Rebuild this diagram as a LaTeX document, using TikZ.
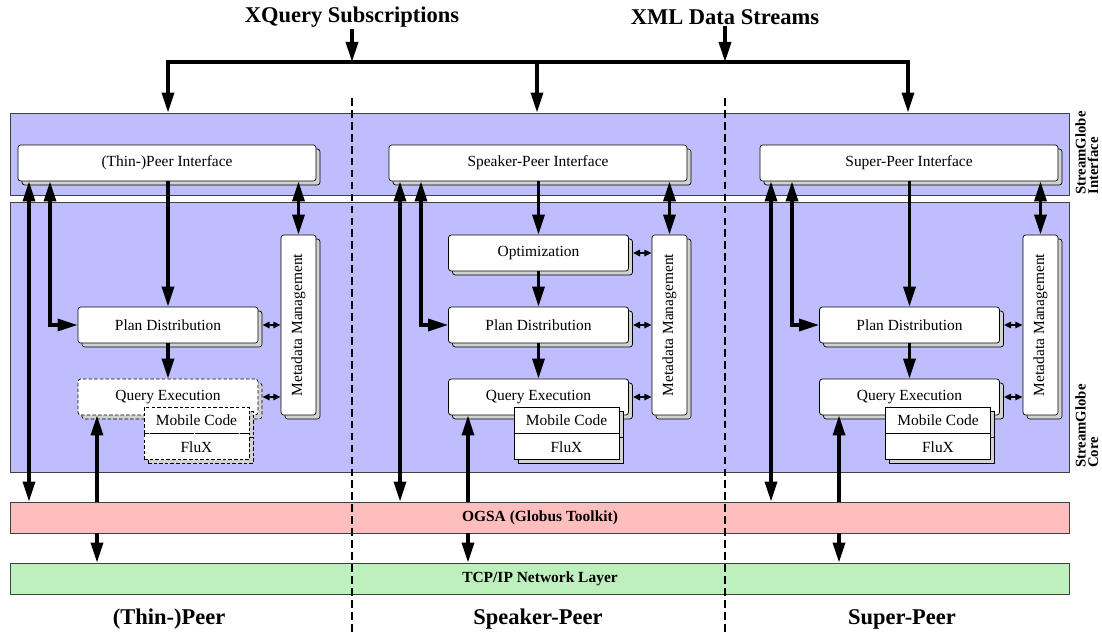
\documentclass[tikz,border=0pt]{standalone}
\usepackage{fontspec}
\setmainfont{Liberation Serif}
\usepackage{tikz}
\usetikzlibrary{arrows.meta,shadows,positioning}

\definecolor{sgblue}{RGB}{190,190,255}
\definecolor{ogsapink}{RGB}{255,190,190}
\definecolor{tcpgreen}{RGB}{190,240,190}
\newcommand{\boxfont}{\fontsize{11}{13}\selectfont}

\tikzset{
	sgshadow/.style={general shadow={shadow xshift=1mm, shadow yshift=-1mm, fill=gray!35, draw=black, line width=0.5pt, #1}},
	box/.style={draw, line width=0.5pt, fill=white, rounded corners=2pt, minimum height=0.9cm, font=\boxfont, sgshadow={}},
	ifbox/.style={box, minimum width=7.45cm},
	modbox/.style={box, minimum width=4.5cm},
	metabox/.style={box, minimum width=0.875cm, minimum height=4.5cm},
	codebox/.style={draw, line width=0.5pt, fill=white, minimum width=2.625cm, minimum height=0.65cm, font=\boxfont, sgshadow={}},
	dashmod/.style={draw, line width=0.5pt, fill=white, rounded corners=2pt, minimum width=4.5cm, minimum height=0.9cm, font=\boxfont, dash pattern=on 2.5pt off 1.5pt, sgshadow={dash pattern=on 2.5pt off 1.5pt}},
	dashcode/.style={draw, line width=0.5pt, fill=white, minimum width=2.625cm, minimum height=0.65cm, font=\boxfont, dash pattern=on 2.5pt off 1.5pt, sgshadow={dash pattern=on 2.5pt off 1.5pt}},
	band/.style={draw=black!75, line width=0.6pt, minimum width=26.475cm, font=\fontsize{11}{13}\bfseries},
	sidelbl/.style={rotate=90, align=left, inner sep=0pt, font=\fontsize{10.5}{9}\bfseries},
	title/.style={inner sep=1pt, font=\fontsize{16}{18}\bfseries},
	arr/.style={line width=2.4pt, -{Triangle[length=5mm,width=3mm]}},
	dblarr/.style={line width=2.4pt, {Triangle[length=5mm,width=3mm]}-{Triangle[length=5mm,width=3mm]}},
	smalldbl/.style={line width=1.5pt, {Triangle[length=1.8mm,width=1.6mm]}-{Triangle[length=1.8mm,width=1.6mm]}},
	sep/.style={line width=1.2pt, dash pattern=on 5.5pt off 3pt}
}

\begin{document}
\begin{tikzpicture}[x=0.025cm, y=-0.025cm]
	\useasboundingbox (0,0) rectangle (1102,635);

	% layers
	\node[band, fill=sgblue, minimum height=2.05cm] (ifBand) at (540,154) {};
	\node[band, fill=sgblue, minimum height=6.75cm] (coreBand) at (540,337) {};
	\node[band, fill=ogsapink, minimum height=0.775cm] (ogsa) at (540,517.5) {OGSA (Globus Toolkit)};
	\node[band, fill=tcpgreen, minimum height=0.775cm] (tcp) at (540,578.5) {TCP/IP Network Layer};

	\node[sidelbl, anchor=north west] (ifLbl) at (1075,195) {StreamGlobe\\Interface};
	\node[sidelbl, anchor=north west] (coreLbl) at (1075,468) {StreamGlobe\\Core};

	% peer separators
	\draw[sep] (352,98) -- (352,635);
	\draw[sep] (725,98) -- (725,635);

	% inputs
	\node[title] (xq) at (352,17) {XQuery Subscriptions};
	\node[title] (xml) at (725,17) {XML Data Streams};
	\coordinate (barL) at (168,62);
	\coordinate (barM) at (537,62);
	\coordinate (barR) at (908,62);
	\draw[arr] (xq) -- (xq |- barL);
	\draw[arr] (xml) -- (xml |- barL);
	\draw[dblarr] (barL |- ifBand.north) -- (barL) -- (barR) -- (barR |- ifBand.north);
	\draw[arr] (barM) -- (barM |- ifBand.north);

	% (Thin-)Peer
	\node[ifbox] (thinIf) at (167,163) {(Thin-)Peer Interface};
	\node[modbox] (thinPlan) at (168,325) {Plan Distribution};
	\node[dashmod] (thinQE) at (168,397) {Query Execution};
	\node[dashcode] (thinMob) at (196.5,420) {Mobile Code};
	\node[dashcode, below=0pt of thinMob] (thinFlux) {FluX};
	\node[metabox] (thinMeta) at (298.5,325) {\rotatebox{90}{Metadata Management}};
	\coordinate (thinA) at (29,0);
	\coordinate (thinB) at (50,0);
	\coordinate (thinC) at (97,0);

	\draw[dblarr] (thinA |- thinIf.south) -- (thinA |- ogsa.north);
	\draw[dblarr] (thinB |- thinIf.south) |- (thinPlan.west);
	\draw[arr] (thinPlan.north |- thinIf.south) -- (thinPlan.north);
	\draw[arr] (thinPlan) -- (thinQE);
	\draw[dblarr] (thinMeta.north |- thinIf.south) -- (thinMeta.north);
	\draw[smalldbl] ([xshift=1mm]thinPlan.east) -- (thinPlan.east -| thinMeta.west);
	\draw[smalldbl] ([xshift=1mm]thinQE.east) -- (thinQE.east -| thinMeta.west);
	\draw[arr] (thinC |- ogsa.north) -- (thinC |- thinQE.south);
	\draw[arr] (thinC |- ogsa.south) -- (thinC |- tcp.north);

	% Speaker-Peer
	\node[ifbox] (spkIf) at (538,163) {Speaker-Peer Interface};
	\node[modbox] (spkOpt) at (538.5,253) {Optimization};
	\node[modbox] (spkPlan) at (538.5,325) {Plan Distribution};
	\node[modbox] (spkQE) at (538.5,397) {Query Execution};
	\node[codebox] (spkMob) at (566.5,420) {Mobile Code};
	\node[codebox, below=0pt of spkMob] (spkFlux) {FluX};
	\node[metabox] (spkMeta) at (669.5,325) {\rotatebox{90}{Metadata Management}};
	\coordinate (spkA) at (400,0);
	\coordinate (spkB) at (421,0);
	\coordinate (spkC) at (468,0);

	\draw[dblarr] (spkA |- spkIf.south) -- (spkA |- ogsa.north);
	\draw[dblarr] (spkB |- spkIf.south) |- (spkPlan.west);
	\draw[arr] (spkOpt.north |- spkIf.south) -- (spkOpt.north);
	\draw[arr] (spkOpt) -- (spkPlan);
	\draw[arr] (spkPlan) -- (spkQE);
	\draw[dblarr] (spkMeta.north |- spkIf.south) -- (spkMeta.north);
	\draw[smalldbl] ([xshift=1mm]spkOpt.east) -- (spkOpt.east -| spkMeta.west);
	\draw[smalldbl] ([xshift=1mm]spkPlan.east) -- (spkPlan.east -| spkMeta.west);
	\draw[smalldbl] ([xshift=1mm]spkQE.east) -- (spkQE.east -| spkMeta.west);
	\draw[arr] (spkC |- ogsa.north) -- (spkC |- spkQE.south);
	\draw[arr] (spkC |- ogsa.south) -- (spkC |- tcp.north);

	% Super-Peer
	\node[ifbox] (supIf) at (909,163) {Super-Peer Interface};
	\node[modbox] (supPlan) at (909.5,325) {Plan Distribution};
	\node[modbox] (supQE) at (909.5,397) {Query Execution};
	\node[codebox] (supMob) at (938,420) {Mobile Code};
	\node[codebox, below=0pt of supMob] (supFlux) {FluX};
	\node[metabox] (supMeta) at (1040.5,325) {\rotatebox{90}{Metadata Management}};
	\coordinate (supA) at (771,0);
	\coordinate (supB) at (792,0);
	\coordinate (supC) at (839,0);

	\draw[dblarr] (supA |- supIf.south) -- (supA |- ogsa.north);
	\draw[dblarr] (supB |- supIf.south) |- (supPlan.west);
	\draw[arr] (supPlan.north |- supIf.south) -- (supPlan.north);
	\draw[arr] (supPlan) -- (supQE);
	\draw[dblarr] (supMeta.north |- supIf.south) -- (supMeta.north);
	\draw[smalldbl] ([xshift=1mm]supPlan.east) -- (supPlan.east -| supMeta.west);
	\draw[smalldbl] ([xshift=1mm]supQE.east) -- (supQE.east -| supMeta.west);
	\draw[arr] (supC |- ogsa.north) -- (supC |- supQE.south);
	\draw[arr] (supC |- ogsa.south) -- (supC |- tcp.north);

	% peer kinds
	\node[title] (thinLbl) at (169,619) {(Thin-)Peer};
	\node[title] (spkLbl) at (538,619) {Speaker-Peer};
	\node[title] (supLbl) at (902,619) {Super-Peer};
\end{tikzpicture}
\end{document}
